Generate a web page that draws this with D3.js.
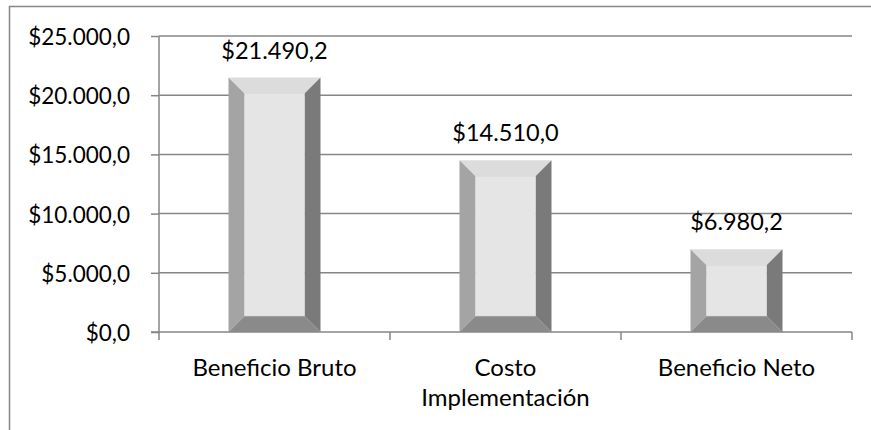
<!DOCTYPE html>
<html><head><meta charset="utf-8">
<script src="https://cdn.jsdelivr.net/npm/d3@7"></script>
<style>body{margin:0;background:#fff}svg{display:block}text{font-family:Lato,"Open Sans",sans-serif;fill:#000}</style>
</head><body><svg id="c" width="871" height="430"></svg>
<script>
const categories = [["Beneficio Bruto"], ["Costo", "Implementación"], ["Beneficio Neto"]];
const values = [21490.2, 14510.0, 6980.2];
const yTicks = [0, 5000, 10000, 15000, 20000, 25000];

const svg = d3.select("#c");
const W = 871, H = 430;
const m = {l: 159, r: 852, t: 36, b: 332};
const fmt = v => "$" + d3.format(",.1f")(v).replace(/,/g, "#").replace(".", ",").replace(/#/g, ".");

svg.append("rect").attr("x", 9.5).attr("y", 6.5).attr("width", W + 10).attr("height", H + 10)
  .attr("fill", "#fff").attr("stroke", "#878787").attr("stroke-width", 1.5);

const x = d3.scaleBand().domain(d3.range(categories.length)).range([m.l, m.r]).paddingInner(0).paddingOuter(0);
const y = d3.scaleLinear().domain([0, 25000]).range([m.b, m.t]);

// gridlines
svg.append("g").selectAll("line").data(yTicks.slice(1)).join("line")
  .attr("x1", m.l).attr("x2", m.r).attr("y1", d => y(d)).attr("y2", d => y(d))
  .attr("stroke", "#868686").attr("stroke-width", 1.5);

// y axis
const ya = svg.append("g").attr("transform", `translate(${m.l},0)`)
  .call(d3.axisLeft(y).tickValues(yTicks).tickSize(8).tickPadding(21).tickFormat(fmt));
ya.select(".domain").attr("stroke", "#868686").attr("stroke-width", 1.5).attr("d", `M-8,${m.b}H0V${m.t}`);
ya.selectAll(".tick line").attr("stroke", "#868686").attr("stroke-width", 1.5);
ya.selectAll(".tick text").attr("font-size", 22.5).attr("font-family", "Lato").attr("fill", "#000")
  .attr("dy", null).attr("y", 8.5);

// x axis
const xa = svg.append("g").attr("transform", `translate(0,${m.b})`);
xa.append("line").attr("x1", m.l).attr("x2", m.r).attr("stroke", "#868686").attr("stroke-width", 1.5);
xa.selectAll(".xt").data(d3.range(categories.length + 1)).join("line")
  .attr("x1", i => m.l + i * x.step()).attr("x2", i => m.l + i * x.step())
  .attr("y1", 0).attr("y2", 8).attr("stroke", "#868686").attr("stroke-width", 1.5);
categories.forEach((lines, i) => {
  const t = xa.append("text").attr("text-anchor", "middle").attr("font-size", 24)
    .attr("x", x(i) + x.bandwidth() / 2).attr("y", 43.5);
  lines.forEach((s, j) => t.append("tspan").attr("x", x(i) + x.bandwidth() / 2).attr("dy", j ? 30 : 0).text(s));
});

// bars
const bw = 92, bev = 16;
values.forEach((v, i) => {
  const cx = x(i) + x.bandwidth() / 2;
  const x0 = cx - bw / 2, x1 = cx + bw / 2, y0 = y(v), y1 = y(0);
  const g = svg.append("g");
  const poly = (pts, c) => g.append("polygon").attr("points", pts.map(p => p.join(",")).join(" ")).attr("fill", c);
  poly([[x0, y0], [x1, y0], [x1 - bev, y0 + bev], [x0 + bev, y0 + bev]], "#dcdcdc");
  poly([[x0, y0], [x0 + bev, y0 + bev], [x0 + bev, y1 - bev], [x0, y1]], "#a4a4a4");
  poly([[x1, y0], [x1, y1], [x1 - bev, y1 - bev], [x1 - bev, y0 + bev]], "#7a7a7a");
  poly([[x0, y1], [x0 + bev, y1 - bev], [x1 - bev, y1 - bev], [x1, y1]], "#8a8a8a");
  g.append("rect").attr("x", x0 + bev).attr("y", y0 + bev).attr("width", bw - 2 * bev)
    .attr("height", Math.max(0, y1 - y0 - 2 * bev)).attr("fill", "#e5e5e5").attr("stroke", "#d4d4d4").attr("stroke-width", 0.6);
  svg.append("text").attr("text-anchor", "middle").attr("font-size", 23.5)
    .attr("x", cx).attr("y", y0 - 19).text(fmt(v));
});
</script></body></html>
